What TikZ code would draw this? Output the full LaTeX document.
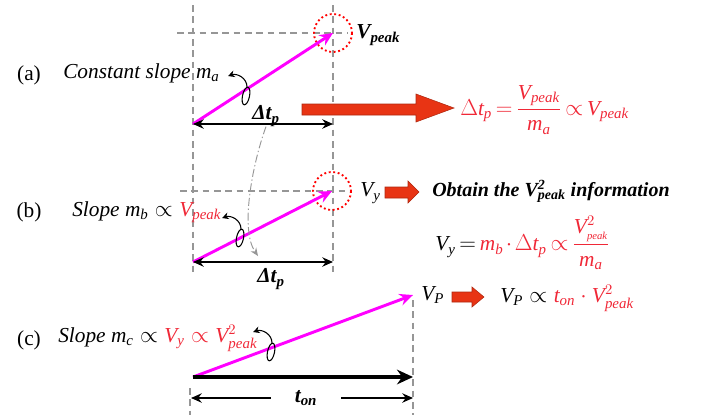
\documentclass[tikz,border=0pt]{standalone}
\usepackage{fontspec}
\setmainfont{Liberation Serif}
\usepackage{amsmath}
\DeclareSymbolFont{letters}{TU}{\rmdefault}{m}{it}
\usetikzlibrary{arrows.meta, calc}
\definecolor{ramppink}{RGB}{255,0,255}
\definecolor{redtxt}{RGB}{240,40,55}
\definecolor{blockred}{RGB}{232,52,20}
\definecolor{guidegray}{RGB}{150,150,150}
\tikzset{
  guide/.style={guidegray, dash pattern=on 5pt off 3.5pt, line width=0.8pt},
  ramp/.style={ramppink, line width=2.2pt, -{Stealth[length=10pt,width=9pt]}},
  span/.style={line width=1.5pt, {Stealth[length=8pt,width=7pt]}-{Stealth[length=8pt,width=7pt]}},
  peakring/.style={red, dotted, line width=1.4pt},
  twist/.style={line width=0.8pt},
  twistarr/.style={line width=0.8pt, -{Stealth[length=5pt,width=5pt]}},
  swing/.style={guidegray, line width=0.7pt, dash pattern=on 6pt off 2pt on 1pt off 2pt, -{Stealth[length=6pt,width=5pt]}},
  blockarrow/.style={fill=blockred, draw=blockred!75!black, line width=0.4pt},
  lbl/.style={font=\fontsize{16}{18}\selectfont, inner sep=0pt},
  tight/.style={execute at begin node={\thickmuskip=3mu\medmuskip=2mu}},
}

\begin{document}
\begin{tikzpicture}[x=0.75pt, y=-0.75pt]
  \useasboundingbox (0,0) rectangle (705,415);
  % guides shared by (a) and (b)
  \coordinate (gLt) at (193,5);   \coordinate (gLb) at (193,272);
  \coordinate (gRt) at (333,5);   \coordinate (gRb) at (333,272);
  \draw[guide] (gLt) -- (gLb);
  \draw[guide] (gRt) -- (gRb);

  % (a)
  \node[lbl] (la) at (29,75) {(a)};
  \node[lbl, anchor=west] (slopea) at (63,73) {\textit{Constant slope} $m_a$};
  \coordinate (a0) at (193,124);
  \coordinate (a1) at (333,124);
  \coordinate (apk) at (333,33);
  \draw[guide] (177,33) -- (348,33);
  \draw[peakring] (apk) circle [radius=19];
  \draw[ramp] (a0) -- (apk);
  \draw[span] (a0) -- (a1);
  \node[lbl] (dta) at (266,116) {\textbf{\textit{Δt\textsubscript{p}}}};
  \node[lbl, anchor=west] (vpk) at (356,35) {\textbf{\textit{V\textsubscript{peak}}}};
  \coordinate (twa) at (246,96);
  \draw[twist, rotate around={-12:(twa)}] (twa) ellipse [x radius=3.5, y radius=9];
  \draw[twistarr] ($(twa)+(1,-9)$) .. controls +(0,-9) and +(9,-3) .. ($(twa)+(-18,-20)$);
  \fill[blockarrow] (302,104) -- (416,104) -- (416,94) -- (454,108) -- (416,122) -- (416,115) -- (302,115) -- cycle;
  \node[lbl, tight, anchor=west, text=redtxt] (fa) at (460,110)
    {$\Delta t_p=\dfrac{V_{peak}}{m_a}\propto V_{peak}$};

  % (b)
  \node[lbl] (lb) at (29,212) {(b)};
  \node[lbl, anchor=west] (slopeb) at (72,212) {\textit{Slope} $m_b\propto{\color{redtxt}V_{peak}}$};
  \coordinate (b0) at (193,262);
  \coordinate (b1) at (333,262);
  \coordinate (bpk) at (332,191);
  \coordinate (bhit) at (258,256);
  \draw[guide] (180,191) -- (350,191);
  \draw[peakring] (bpk) circle [radius=19];
  \draw[ramp] (b0) -- (bpk);
  \draw[span] (b0) -- (b1);
  \draw[swing] (dta.south) .. controls (252,165) and (240,230) .. (bhit);
  \node[lbl] (dtb) at (271,279) {\textbf{\textit{Δt\textsubscript{p}}}};
  \node[lbl, anchor=west] (vy) at (360,193) {$V_y$};
  \coordinate (twb) at (240,238);
  \draw[twist, rotate around={-12:(twb)}] (twb) ellipse [x radius=3.5, y radius=9];
  \draw[twistarr] ($(twb)+(1,-9)$) .. controls +(0,-9) and +(9,-3) .. ($(twb)+(-18,-20)$);
  \fill[blockarrow] (385,187) -- (408,187) -- (408,181) -- (419,192) -- (408,203) -- (408,198) -- (385,198) -- cycle;
  \node[lbl, anchor=west, font=\fontsize{15}{17}\selectfont] (obtain) at (432,191)
    {\textbf{\textit{Obtain the V\rlap{\textsuperscript{2}}\textsubscript{peak} information}}};
  \node[lbl, tight, anchor=west] (fb) at (435,243)
    {$V_y={\color{redtxt}m_b\cdot\Delta t_p\propto\dfrac{V^2_{\scriptscriptstyle peak}}{m_a}}$};

  % (c)
  \node[lbl] (lc) at (29,340) {(c)};
  \node[lbl, anchor=west] (slopec) at (58,338)
    {\textit{Slope} $m_c\propto{\color{redtxt}V_y\propto V^2_{peak}}$};
  \coordinate (c0) at (193,377);
  \coordinate (c1) at (413,377);
  \coordinate (cpk) at (413,295);
  \draw[guide] (413,300) -- (413,415);
  \draw[guide] (190,388) -- (190,415);
  \draw[ramp] (c0) -- (cpk);
  \draw[line width=3pt, -{Stealth[length=12pt,width=11pt]}] (c0) -- (c1);
  \node[lbl] (ton) at (306,398) {\textbf{\textit{t\textsubscript{on}}}};
  \coordinate (tl) at (191,398);
  \coordinate (tr) at (413,398);
  \draw[line width=1.5pt, -{Stealth[length=8pt,width=7pt]}] (ton.west) ++(-24,0) -- (tl);
  \draw[line width=1.5pt, -{Stealth[length=8pt,width=7pt]}] (ton.east) ++(24,0) -- (tr);
  \coordinate (twc) at (271,352);
  \draw[twist, rotate around={-12:(twc)}] (twc) ellipse [x radius=3.5, y radius=9];
  \draw[twistarr] ($(twc)+(1,-9)$) .. controls +(0,-9) and +(9,-3) .. ($(twc)+(-18,-20)$);
  \node[lbl, anchor=west] (vp) at (421,295) {$V_P$};
  \fill[blockarrow] (452,292) -- (472,292) -- (472,287) -- (484,297) -- (472,307) -- (472,302) -- (452,302) -- cycle;
  \node[lbl, anchor=west] (fc) at (500,298)
    {$V_P\propto{\color{redtxt}t_{on}\cdot V^2_{peak}}$};
\end{tikzpicture}
\end{document}
